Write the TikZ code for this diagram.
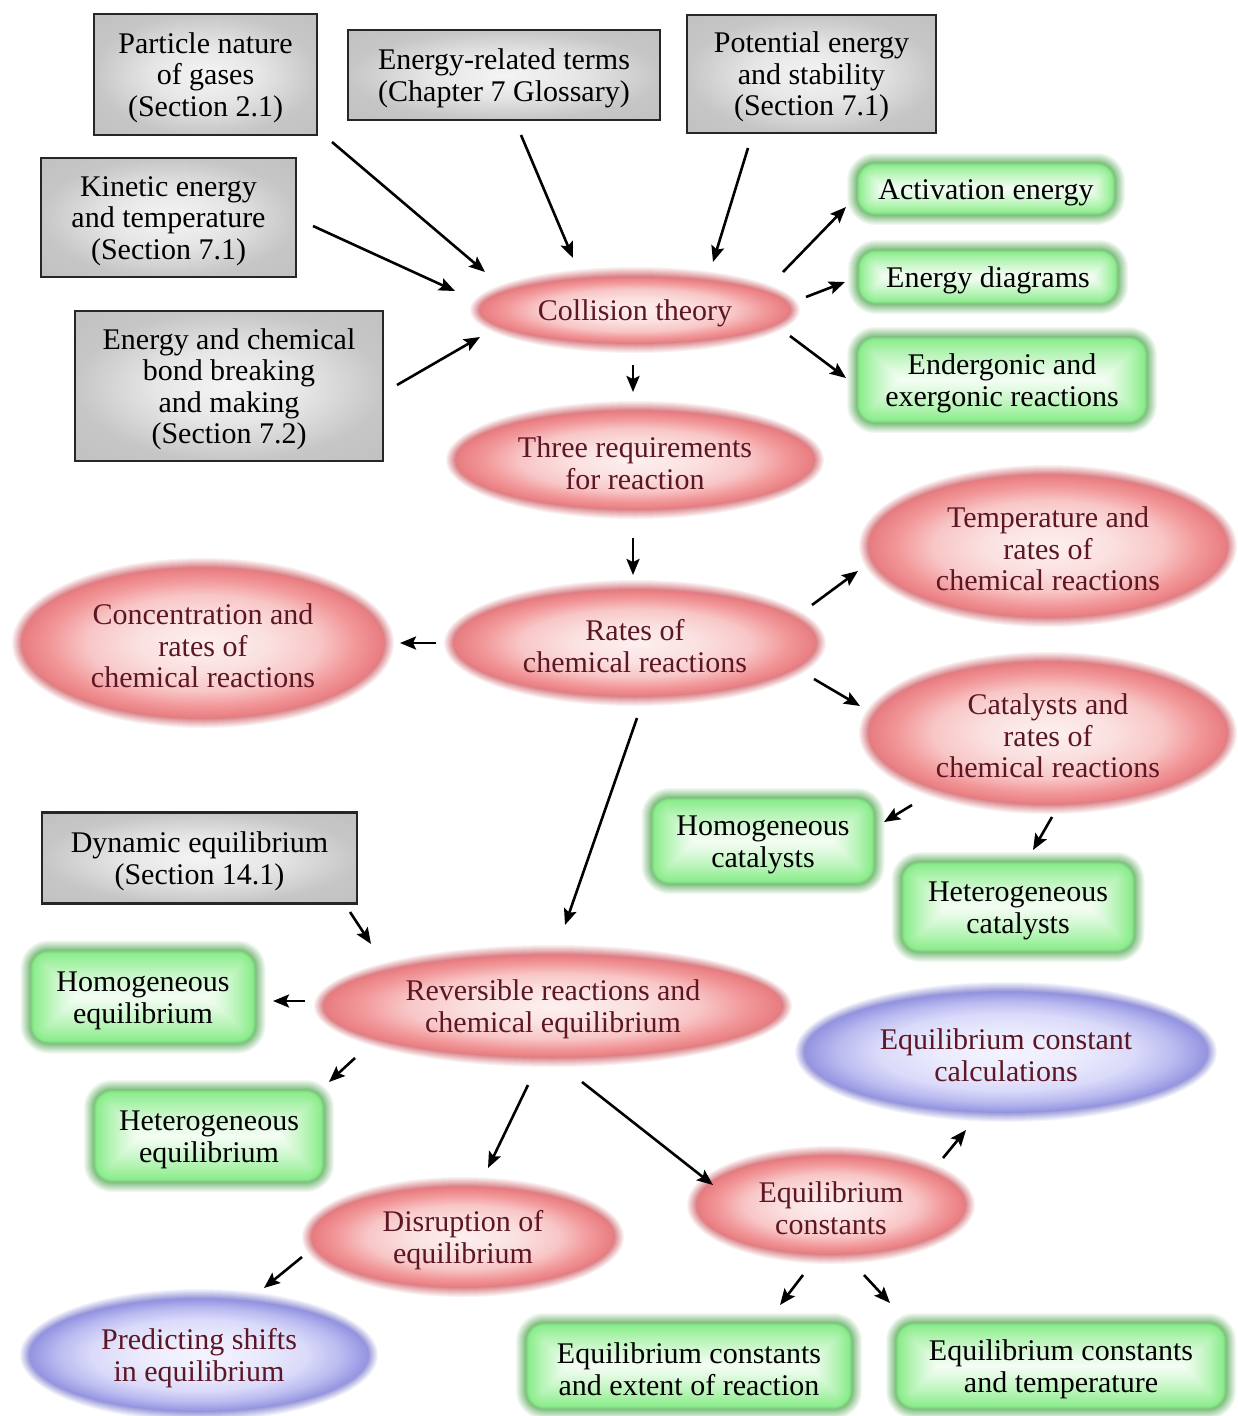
\documentclass[tikz,border=0pt]{standalone}
\usepackage{fontspec}
\setmainfont{Liberation Serif}
\usetikzlibrary{arrows.meta,backgrounds,calc}
\pgfdeclarelayer{bottom}
\pgfsetlayers{bottom,background,main}
\definecolor{maroon}{RGB}{92,22,36}
\definecolor{redrim}{RGB}{232,124,128}
\definecolor{redglow}{RGB}{214,118,124}
\definecolor{redca}{RGB}{253,240,240}
\definecolor{redcb}{RGB}{251,224,224}
\definecolor{redcc}{RGB}{248,198,198}
\definecolor{redcd}{RGB}{242,152,154}
\definecolor{bluerim}{RGB}{148,148,226}
\definecolor{blueglow}{RGB}{140,140,214}
\definecolor{blueca}{RGB}{244,244,255}
\definecolor{bluecb}{RGB}{234,234,253}
\definecolor{bluecc}{RGB}{218,218,250}
\definecolor{bluecd}{RGB}{186,186,240}
\definecolor{gbright}{RGB}{132,236,132}
\definecolor{gglow}{RGB}{120,186,120}
\definecolor{graya}{RGB}{244,244,244}
\definecolor{grayb}{RGB}{230,230,230}
\definecolor{grayc}{RGB}{198,198,198}
\definecolor{grayd}{RGB}{186,186,186}
\pgfdeclareradialshading{redsh}{\pgfpointorigin}{color(0bp)=(redca); color(9bp)=(redcb); color(16bp)=(redcc); color(21bp)=(redcd); color(25bp)=(redrim); color(50bp)=(redrim)}
\pgfdeclareradialshading{bluesh}{\pgfpointorigin}{color(0bp)=(blueca); color(9bp)=(bluecb); color(16bp)=(bluecc); color(21bp)=(bluecd); color(25bp)=(bluerim); color(50bp)=(bluerim)}
\pgfdeclareradialshading{graysh}{\pgfpointorigin}{color(0bp)=(graya); color(12bp)=(grayb); color(25bp)=(grayc); color(50bp)=(grayd)}
\newcommand\fsz{\fontsize{30}{31.5}\selectfont}
\newcommand\lift{\rule{0pt}{27pt}}
\tikzset{
  basetext/.style={align=center, font=\fsz, inner sep=0pt},
  rtext/.style={basetext, text=maroon},
  gtext/.style={basetext, text=black},
  graybox/.style={basetext, text=black, rectangle, shading=graysh, draw=black!85, line width=2.6pt},
  arr/.style={line width=2.6pt, -{Stealth[length=16pt,width=13pt,inset=3pt]}}
}
\begin{document}
\begin{tikzpicture}[x=1pt,y=-1pt]
\begin{pgfonlayer}{bottom}
\fill[white] (0,0) rectangle (1238,1416);
\end{pgfonlayer}
\useasboundingbox (0,0) rectangle (1238,1416);
% grey boxes
\node[graybox, minimum width=223pt, minimum height=121pt] (part) at (205.5,74.5) {\lift Particle nature\\of gases\\(Section 2.1)};
\node[graybox, minimum width=312pt, minimum height=90pt] (eterms) at (504,75) {\lift Energy-related terms\\(Chapter 7 Glossary)};
\node[graybox, minimum width=249pt, minimum height=118pt] (pot) at (811.5,74) {\lift Potential energy\\and stability\\(Section 7.1)};
\node[graybox, minimum width=255pt, minimum height=119pt] (kin) at (168.5,217.5) {\lift Kinetic energy\\and temperature\\(Section 7.1)};
\node[graybox, minimum width=308pt, minimum height=150pt] (ebond) at (229,386) {\lift Energy and chemical\\bond breaking\\and making\\(Section 7.2)};
\node[graybox, minimum width=315pt, minimum height=91pt] (dyn) at (199.5,858) {\lift Dynamic equilibrium\\(Section 14.1)};
% ellipses
\node[rtext] (coll) at (635,310) {\lift Collision theory};
\node[rtext] (three) at (635,460) {\lift Three requirements\\for reaction};
\node[rtext] (rates) at (635,643) {\lift Rates of\\chemical reactions};
\node[rtext] (conc) at (203,643) {\lift Concentration and\\rates of\\chemical reactions};
\node[rtext] (temp) at (1048,546) {\lift Temperature and\\rates of\\chemical reactions};
\node[rtext] (cat) at (1048,733) {\lift Catalysts and\\rates of\\chemical reactions};
\node[rtext] (rev) at (553,1006) {\lift Reversible reactions and\\chemical equilibrium};
\node[rtext] (disr) at (463,1237) {\lift Disruption of\\equilibrium};
\node[rtext] (eqc) at (831,1205) {\lift Equilibrium\\constants};
\node[rtext] (calc) at (1006,1052) {\lift Equilibrium constant\\calculations};
\node[rtext] (pred) at (199,1355) {\lift Predicting shifts\\in equilibrium};
% green boxes
\node[gtext] (act) at (986,189) {\lift Activation energy};
\node[gtext] (ediag) at (988,277) {\lift Energy diagrams};
\node[gtext] (ender) at (1002,380) {\lift Endergonic and\\exergonic reactions};
\node[gtext] (homcat) at (763,841) {\lift Homogeneous\\catalysts};
\node[gtext] (hetcat) at (1018,907) {\lift Heterogeneous\\catalysts};
\node[gtext] (homeq) at (143,997) {\lift Homogeneous\\equilibrium};
\node[gtext] (heteq) at (209,1136) {\lift Heterogeneous\\equilibrium};
\node[gtext] (eqext) at (689,1366) {\lift Equilibrium constants\\and extent of reaction};
\node[gtext] (eqtemp) at (1061,1366) {\lift Equilibrium constants\\and temperature};
\begin{scope}[on background layer]
\foreach \n/\rx/\ry/\rim/\sh in {coll/155/33/redglow/redsh, three/179/49/redglow/redsh, rates/181/53/redglow/redsh, conc/181/75/redglow/redsh, temp/179/71/redglow/redsh, cat/179/71/redglow/redsh, rev/229/51/redglow/redsh, disr/151/50/redglow/redsh, eqc/134/49/redglow/redsh, calc/201/60/blueglow/bluesh, pred/169/56/blueglow/bluesh} {
  \foreach \i in {10,...,1} {
    \pgfmathtruncatemacro\p{100-9*\i}
    \pgfmathsetmacro\ax{\rx+\i}
    \pgfmathsetmacro\ay{\ry+\i}
    \fill[\rim!\p!white] (\n) ellipse [x radius=\ax pt, y radius=\ay pt];
  }
  \shade[shading=\sh] (\n) ellipse [x radius=\rx pt, y radius=\ry pt];
}
\foreach \n/\w/\h in {act/258/52, ediag/260/54, ender/290/86, homcat/223/86, hetcat/233/90, homeq/225/93, heteq/230/92, eqext/326/86, eqtemp/330/86} {
  \foreach \i in {10,...,1} {
    \pgfmathtruncatemacro\p{100-9*\i}
    \pgfmathsetmacro\hw{\w/2+\i}
    \pgfmathsetmacro\hh{\h/2+\i}
    \pgfmathsetmacro\rc{18+\i}
    \fill[gglow!\p!white, rounded corners=\rc pt] ($(\n)+(-\hw,-\hh)$) rectangle ($(\n)+(\hw,\hh)$);
  }
  \pgfmathtruncatemacro\jmax{\h/2-1}
  \foreach \j in {0,...,\jmax} {
    \pgfmathtruncatemacro\p{10+90*(1-\j/(\h/2))^1.25}
    \pgfmathtruncatemacro\q{max(0,60-25*\j)}
    \pgfmathsetmacro\hw{\w/2-\j}
    \pgfmathsetmacro\hh{\h/2-\j}
    \pgfmathsetmacro\rc{max(18-\j,0.5)}
    \fill[gglow!\q!gbright!\p!white, rounded corners=\rc pt] ($(\n)+(-\hw,-\hh)$) rectangle ($(\n)+(\hw,\hh)$);
  }
}
\end{scope}
% arrows
\draw[arr] ([shift={(126.5,67.5)}]part.center) -- ([shift={(-150,-38)}]coll.center);
\draw[arr] ([shift={(17,60)}]eterms.center) -- ([shift={(-62,-52)}]coll.center);
\draw[arr] ([shift={(-63.5,74)}]pot.center) -- ([shift={(78,-48)}]coll.center);
\draw[arr] ([shift={(144.5,8.5)}]kin.center) -- ([shift={(-180,-19)}]coll.center);
\draw[arr] ([shift={(168,-1)}]ebond.center) -- ([shift={(-155,27)}]coll.center);
\draw[arr] ([shift={(148,-38)}]coll.center) -- ([shift={(-140,18)}]act.center);
\draw[arr] ([shift={(171,-13)}]coll.center) -- ([shift={(-143,5)}]ediag.center);
\draw[arr] ([shift={(155,26)}]coll.center) -- ([shift={(-156,-2)}]ender.center);
\draw[arr] ([shift={(-2,55)}]coll.center) -- ([shift={(-2,-68)}]three.center);
\draw[arr] ([shift={(-2,78)}]three.center) -- ([shift={(-2,-68)}]rates.center);
\draw[arr] ([shift={(-199,0)}]rates.center) -- ([shift={(197,0)}]conc.center);
\draw[arr] ([shift={(177,-38)}]rates.center) -- ([shift={(-190,25)}]temp.center);
\draw[arr] ([shift={(179,36)}]rates.center) -- ([shift={(-188,-27)}]cat.center);
\draw[arr] ([shift={(2,75)}]rates.center) -- ([shift={(12,-81)}]rev.center);
\draw[arr] ([shift={(-136,72)}]cat.center) -- ([shift={(121,-19)}]homcat.center);
\draw[arr] ([shift={(4,84)}]cat.center) -- ([shift={(15,-57)}]hetcat.center);
\draw[arr] ([shift={(150.5,54)}]dyn.center) -- ([shift={(-182,-62)}]rev.center);
\draw[arr] ([shift={(-248,-5)}]rev.center) -- ([shift={(130,4)}]homeq.center);
\draw[arr] ([shift={(-198,52)}]rev.center) -- ([shift={(120,-54)}]heteq.center);
\draw[arr] ([shift={(-25,79)}]rev.center) -- ([shift={(25,-69)}]disr.center);
\draw[arr] ([shift={(29,76)}]rev.center) -- ([shift={(-118,-20)}]eqc.center);
\draw[arr] ([shift={(112,-47)}]eqc.center) -- ([shift={(-40,78)}]calc.center);
\draw[arr] ([shift={(-28,70)}]eqc.center) -- ([shift={(91,-61)}]eqext.center);
\draw[arr] ([shift={(33,70)}]eqc.center) -- ([shift={(-171,-63)}]eqtemp.center);
\draw[arr] ([shift={(-161,20)}]disr.center) -- ([shift={(65,-67)}]pred.center);
\end{tikzpicture}
\end{document}
